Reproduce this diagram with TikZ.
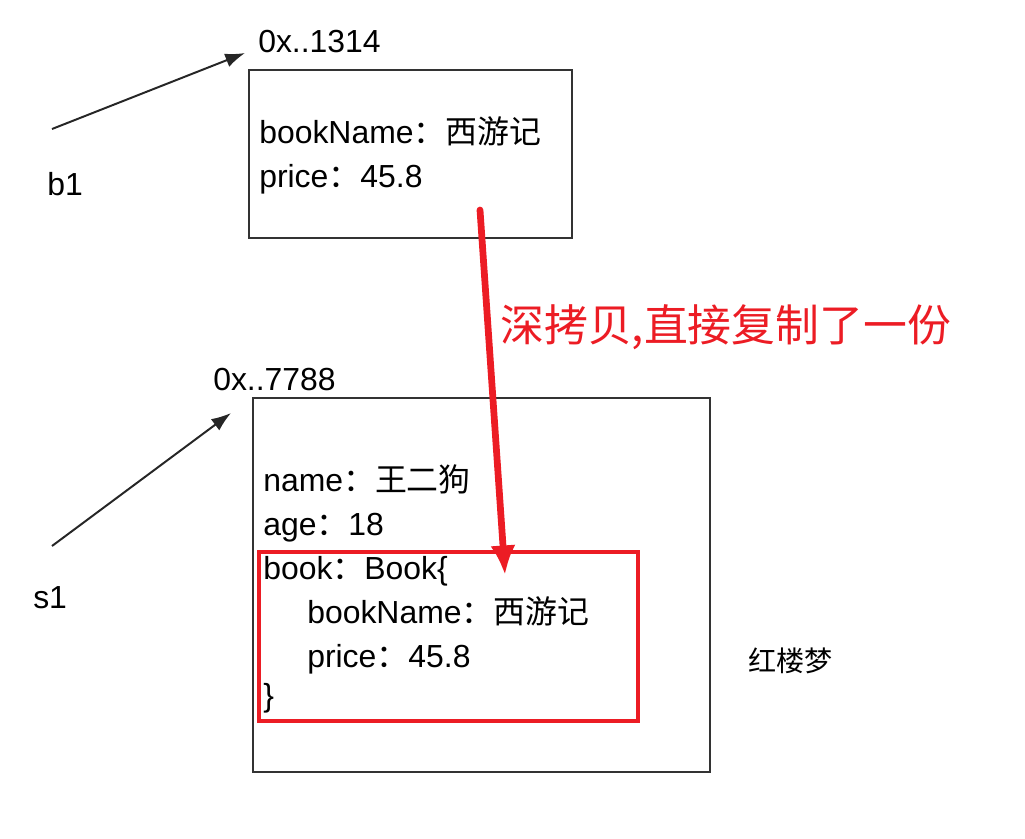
\documentclass[tikz,border=0pt]{standalone}
\usepackage{fontspec}
\setmainfont{Liberation Sans}
\newfontfamily\cjk{Noto Sans CJK SC}
\usetikzlibrary{arrows.meta}
\definecolor{copyred}{RGB}{236,28,36}
\begin{document}
\begin{tikzpicture}[>={Latex[length = 14pt, width = 10pt]}, x = 0.025cm, y = -0.025cm]
    \useasboundingbox (0, 0) rectangle (1025, 838);

    \tikzstyle{field} = [anchor = base west, inner sep = 0pt, font = \fontsize{22.7}{27}\selectfont]
    \tikzstyle{obj} = [draw = black!80, line width = 1.3pt, inner sep = 0pt]
    \tikzstyle{ref} = [->, line width = 1.4pt, black!85]

    % object b1 points to
    \node[obj, minimum width = 8.075cm, minimum height = 4.2cm] (bookbox) at (410.5, 154) {};
    \node[field] (bookaddr) at (258, 52) {0x..1314};
    \node[field] (b1) at (47, 195) {b1};
    \node[field] (bname) at (259, 143) {bookName{\cjk ：西游记}};
    \node[field] (bprice) at (259, 187) {price{\cjk ：}45.8};

    \coordinate (b1tail) at (52, 129);
    \coordinate (b1head) at (245, 53);
    \draw[ref] (b1tail) -- (b1head);

    % object s1 points to
    \node[obj, minimum width = 11.425cm, minimum height = 9.35cm] (studbox) at (481.5, 585) {};
    \node[field] (studaddr) at (213, 390) {0x..7788};
    \node[field] (s1) at (33, 608) {s1};
    \node[field] (sname) at (263, 491) {name{\cjk ：王二狗}};
    \node[field] (sage) at (263, 535) {age{\cjk ：}18};
    \node[field] (sbook) at (263, 579) {book{\cjk ：}Book\{};
    \node[field] (sbname) at (307, 623) {bookName{\cjk ：西游记}};
    \node[field] (sbprice) at (307, 667) {price{\cjk ：}45.8};
    \node[field] (sclose) at (263, 706) {\}};
    \node[anchor = west, inner sep = 0pt, font = \fontsize{20}{24}\selectfont\cjk] (other) at (748, 661) {红楼梦};

    \coordinate (s1tail) at (52, 546);
    \coordinate (s1head) at (231, 413);
    \draw[ref] (s1tail) -- (s1head);

    % the copy
    \node[draw = copyred, line width = 2.4pt, inner sep = 0pt, minimum width = 9.475cm, minimum height = 4.225cm] (copybox) at (448.5, 636.5) {};
    \node[anchor = west, inner sep = 0pt, text = copyred, font = \fontsize{31.2}{35}\selectfont\cjk] (copytext) at (500, 327) {深拷贝,直接复制了一份};

    \coordinate (copytail) at (480, 210);
    \coordinate (copyhead) at (505, 575);
    \draw[-{Latex[length = 21pt, width = 18pt]}, line width = 4.8pt, line cap = round, copyred] (copytail) -- (copyhead);
\end{tikzpicture}
\end{document}
